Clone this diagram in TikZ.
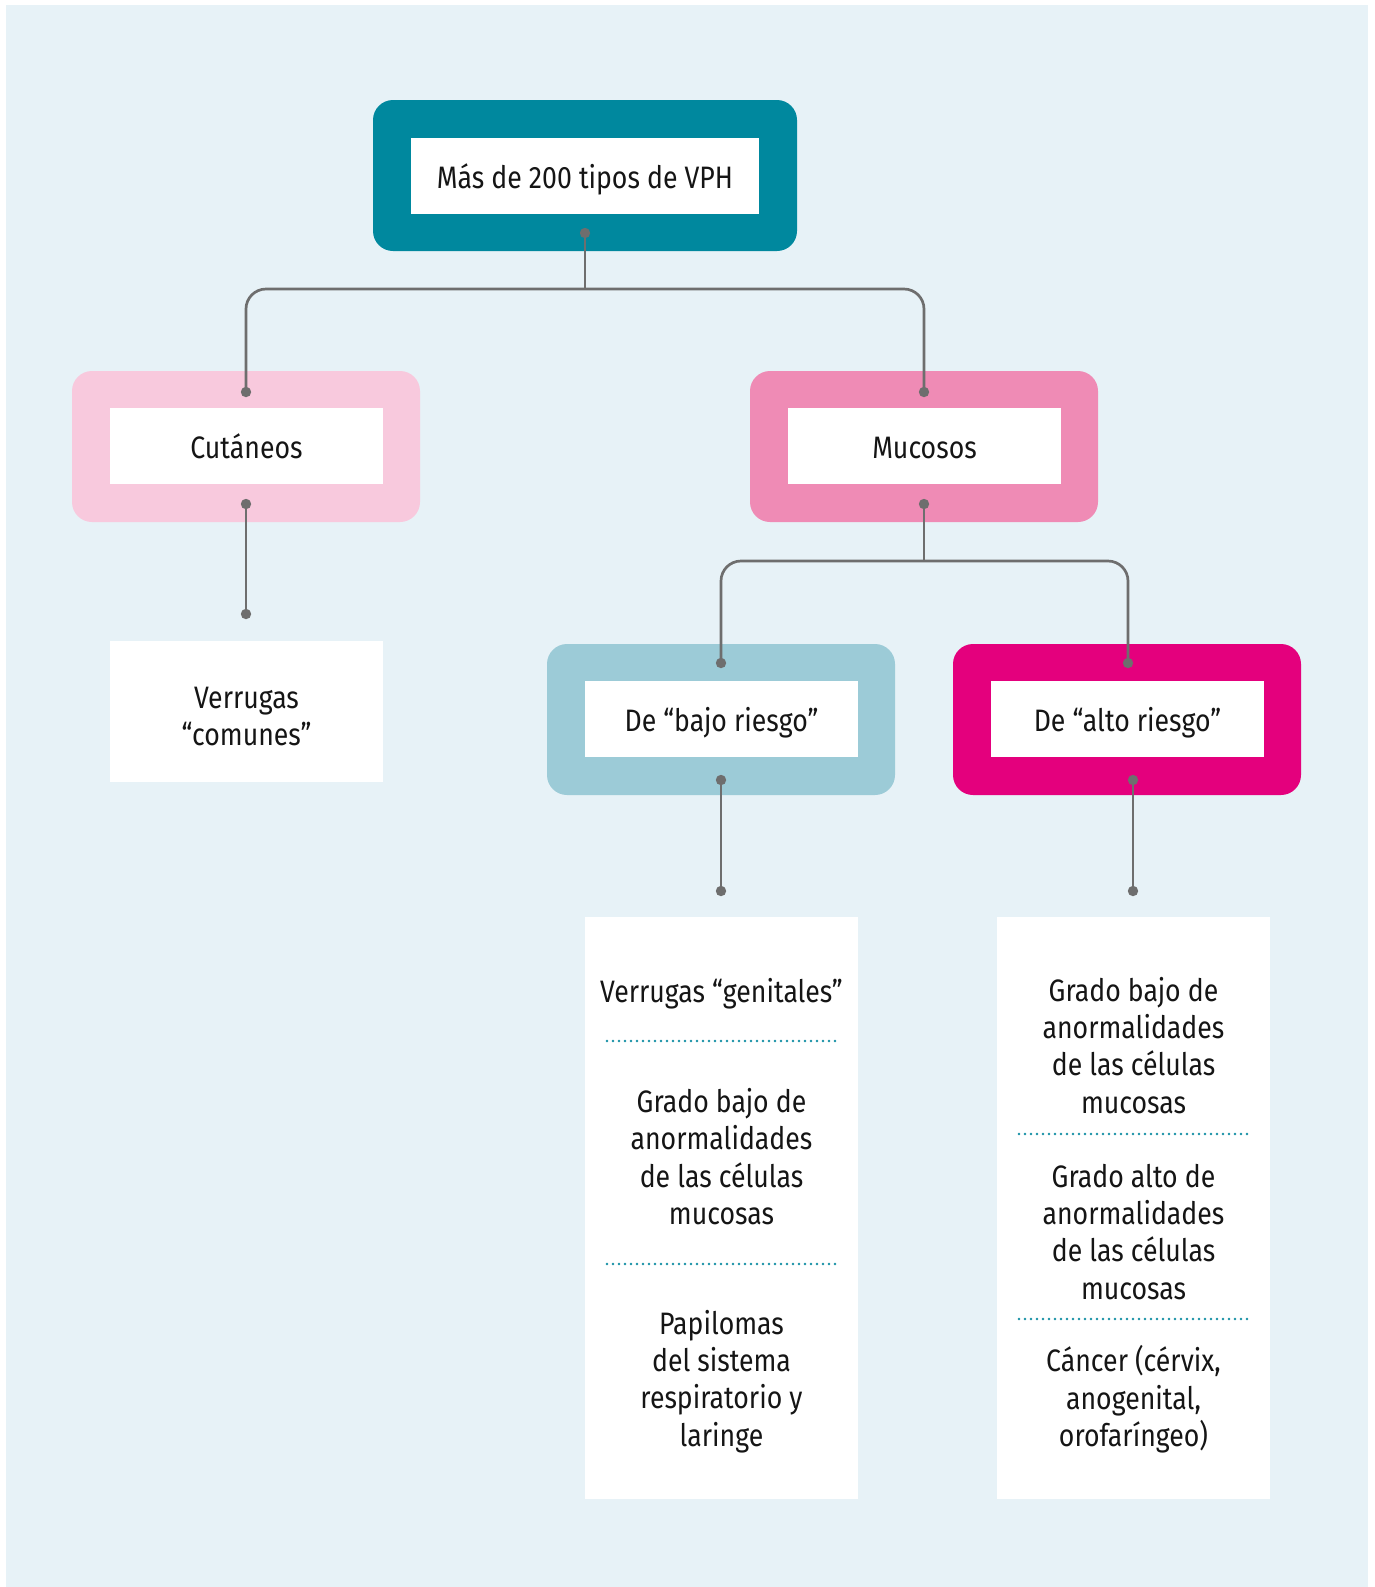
\documentclass[tikz,border=0pt]{standalone}
\usepackage{fontspec}
\setmainfont{Fira Sans}[FakeStretch=0.86]
\usetikzlibrary{calc}

\definecolor{bg}{HTML}{E7F2F7}
\definecolor{tealc}{HTML}{00889E}
\definecolor{pinkl}{HTML}{F8C9DD}
\definecolor{pinkm}{HTML}{EF8BB5}
\definecolor{bluel}{HTML}{9CCBD7}
\definecolor{magc}{HTML}{E4007D}
\definecolor{linec}{HTML}{6E6E6E}
\definecolor{dotc}{HTML}{1590A5}
\definecolor{ink}{HTML}{151515}

\begin{document}
\begin{tikzpicture}[x=0.5pt,y=-0.5pt,
  txt/.style={font=\fontsize{15.5pt}{18.7pt}\selectfont, text=ink, inner sep=0pt},
  outerbox/.style={rounded corners=10pt, minimum width=174pt, minimum height=75.5pt, inner sep=0pt},
  innerbox/.style={txt, fill=white, minimum width=136.5pt, minimum height=38pt, text height=12pt, text depth=0pt},
  listbox/.style={fill=white, minimum width=136.5pt, inner sep=0pt},
  line/.style={txt, anchor=base},
  conn/.style={draw=linec, line width=1.35pt},
  dotmark/.style={fill=linec},
  sep/.style={draw=dotc, line width=1.4pt, line cap=round, dash pattern=on 0pt off 3pt}]

\useasboundingbox (0,0) rectangle (1375,1587);
\fill[bg] (6,5) rectangle (1368,1587);

% ---- boxes ----
\node[outerbox, fill=tealc, minimum width=212pt] (vphO) at (585,175.5) {};
\node[innerbox, minimum width=174pt] (vph) at (585,176) {Más de 200 tipos de VPH};

\node[outerbox, fill=pinkl] (cutO) at (246,446.5) {};
\node[innerbox] (cut) at (246.5,446) {Cutáneos};

\node[outerbox, fill=pinkm] (mucO) at (924,446.5) {};
\node[innerbox] (muc) at (924.5,446) {Mucosos};

\node[outerbox, fill=bluel] (bajoO) at (721,719.5) {};
\node[innerbox] (bajo) at (721.5,719) {De “bajo riesgo”};

\node[outerbox, fill=magc] (altoO) at (1127,719.5) {};
\node[innerbox] (alto) at (1127.5,719) {De “alto riesgo”};

\node[listbox, minimum height=70.5pt] (comB) at (246.5,711.5) {};
\node[line] (com1) at (246.5,708) {Verrugas};
\node[line] (com2) at (246.5,745.5) {“comunes”};

\node[listbox, minimum height=291pt] (bajoL) at (721.5,1208) {};
\node[listbox, minimum height=291pt] (altoL) at (1133.5,1208) {};

% ---- list texts ----
\node[line] (bl1) at (721.5,1002) {Verrugas “genitales”};
\foreach \t [count=\i] in {Grado bajo de, anormalidades, de las células, mucosas}
  \node[line] (bl2-\i) at (721.5,{1112.5+37.4*(\i-1)}) {\t};
\foreach \t [count=\i] in {Papilomas, del sistema, respiratorio y, laringe}
  \node[line] (bl3-\i) at (721.5,{1334+37.4*(\i-1)}) {\t};

\foreach \t [count=\i] in {Grado bajo de, anormalidades, de las células, mucosas}
  \node[line] (al1-\i) at (1133.5,{1001+37.4*(\i-1)}) {\t};
\foreach \t [count=\i] in {Grado alto de, anormalidades, de las células, mucosas}
  \node[line] (al2-\i) at (1133.5,{1187+37.4*(\i-1)}) {\t};
\node[line] (al3-1) at (1133.5,1371.5) {Cáncer (cérvix,};
\node[line] (al3-2) at (1133.5,1409) {anogenital,};
\node[line] (al3-3) at (1133.5,1446.4) {orofaríngeo)};

% dotted separators
\draw[sep] (607,1041) -- (837,1041);
\draw[sep] (607,1264) -- (837,1264);
\draw[sep] (1019,1134) -- (1249,1134);
\draw[sep] (1019,1319) -- (1249,1319);

% ---- connector end points ----
\coordinate (vphDot) at (585,233);
\coordinate (j1) at (585,289);
\coordinate (cutIn) at (246,392);
\coordinate (mucIn) at (924,392);
\coordinate (cutOut) at (246,504);
\coordinate (comIn) at (246,614);
\coordinate (mucOut) at (924,504);
\coordinate (j2) at (924,561);
\coordinate (bajoIn) at (721,663);
\coordinate (altoIn) at (1128,663);
\coordinate (bajoOut) at (721,780);
\coordinate (bajoLIn) at (721,891);
\coordinate (altoOut) at (1133,780);
\coordinate (altoLIn) at (1133,891);

% ---- connectors ----
\draw[conn] (vphDot) -- (j1);
\draw[conn, rounded corners=10pt] (cutIn) |- (j1) -| (mucIn);
\draw[conn] (cutOut) -- (comIn);
\draw[conn] (mucOut) -- (j2);
\draw[conn, rounded corners=10pt] (bajoIn) |- (j2) -| (altoIn);
\draw[conn] (bajoOut) -- (bajoLIn);
\draw[conn] (altoOut) -- (altoLIn);

\foreach \p in {vphDot,cutIn,mucIn,cutOut,comIn,mucOut,bajoIn,altoIn,bajoOut,bajoLIn,altoOut,altoLIn}
  \fill[dotmark] (\p) circle (2.6pt);
\end{tikzpicture}
\end{document}
